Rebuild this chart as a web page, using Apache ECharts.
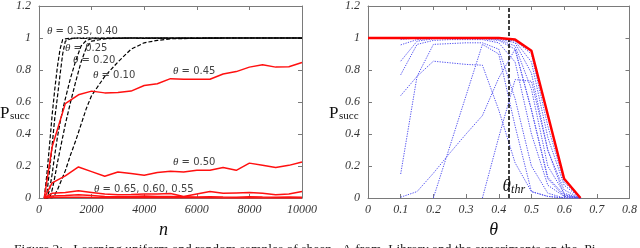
<!DOCTYPE html>
<html><head><meta charset="utf-8">
<script src="https://cdn.jsdelivr.net/npm/echarts@6/dist/echarts.min.js"></script>
<style>html,body{margin:0;padding:0;background:#fff;overflow:hidden}#c{width:640px;height:248px}</style>
</head><body><div id="c"></div>
<script>
// ---------- DATA ----------
// Left panel: P_succ vs n
const nRed = [200,500,1000,1500,2000,2500,3000,3500,4000,4500,5000,5500,6000,6500,7000,7500,8000,8500,9000,9500,10000];
const red045 = [0,0.32,0.59,0.645,0.668,0.657,0.66,0.668,0.703,0.714,0.746,0.742,0.742,0.742,0.775,0.79,0.818,0.833,0.818,0.82,0.847];
const red050 = [0,0.095,0.138,0.194,0.165,0.136,0.163,0.153,0.142,0.16,0.167,0.163,0.173,0.173,0.19,0.173,0.218,0.204,0.19,0.204,0.225];
const red055 = [0,0.03,0.035,0.045,0.035,0.025,0.02,0.022,0.025,0.025,0.028,0.01,0.025,0.04,0.03,0.032,0.034,0.03,0.02,0.025,0.04];
const red060 = [0,0.012,0.015,0.02,0.015,0.01,0.008,0.01,0.012,0.01,0.01,0.008,0.006,0.008,0.006,0.005,0.008,0.006,0.005,0.006,0.005];
const red065 = [0,0.003,0.005,0.004,0.003,0.002,0.001,0.002,0.002,0.001,0.001,0.001,0.001,0.001,0,0,0.001,0,0,0,0];

const nBlack = [200,300,400,500,600,700,800,900,1000,1200,1400,1600,1800,2000,2500,3000,3500,4000,4500,5000,6000,7000,8000,9000,10000];
const blk040 = [0,0.15,0.33,0.52,0.68,0.82,0.93,0.99,0.995,0.998,1,1,0.997,1,1,0.998,1,1,1,0.998,1,1,1,1,1];
const blk035 = [0,0.03,0.17,0.33,0.5,0.63,0.77,0.9,0.98,0.995,1,0.998,1,1,0.997,1,1,1,0.998,1,1,1,1,1,1];
const blk025 = [0,0,0.05,0.15,0.27,0.38,0.47,0.55,0.62,0.75,0.86,0.95,0.985,0.995,0.998,1,1,0.997,1,1,1,1,1,1,1];
const blk020 = [0,0,0,0.05,0.13,0.22,0.3,0.38,0.46,0.6,0.73,0.85,0.94,0.98,0.995,0.998,1,1,1,1,0.998,1,1,1,1];
const blk010 = [0,0,0,0,0.02,0.05,0.09,0.13,0.17,0.27,0.36,0.46,0.56,0.64,0.76,0.85,0.93,0.97,0.985,0.995,0.998,1,1,1,1];

// Right panel: P_succ vs theta
const thetaRed = [0,0.1,0.2,0.3,0.4,0.45,0.5,0.55,0.6,0.65];
const redRight = [1,1,1,1,1,0.99,0.92,0.52,0.12,0];
const thetaBlue = [0.1,0.15,0.2,0.25,0.3,0.35,0.4,0.45,0.5,0.55,0.6,0.65];
const blue1  = [null,null,null,null,null,0,0.38,0.74,0.73,0.3,0.02,0];
const blue2  = [0.005,0.04,0.155,0.28,0.4,0.515,0.75,0.93,0.55,0.12,0.01,0];
const blue3  = [null,null,0,0.32,0.64,0.96,0.9,0.45,0.04,0.01,0,0];
const blue4  = [0.15,0.76,0.855,0.845,0.835,0.83,0.55,0.22,0.04,0.01,0,0];
const blue5  = [0.64,0.76,0.96,0.965,0.97,0.97,0.93,0.62,0.2,0.03,0,0];
const blue6  = [0.77,0.96,0.985,0.99,0.99,0.99,0.97,0.85,0.4,0.08,0.01,0];
const blue7  = [0.855,0.98,0.995,1,1,0.995,0.985,0.93,0.55,0.13,0.02,0];
const blue8  = [0.957,0.99,1,1,1,1,0.99,0.95,0.68,0.2,0.03,0];
const blue9  = [0.99,1,1,1,1,1,0.995,0.97,0.78,0.3,0.05,0];
const blue10 = [1,1,1,1,1,1,1,0.98,0.85,0.38,0.08,0];
const blue11 = [1,1,1,1,1,1,1,0.985,0.9,0.45,0.1,0];
const thetaThr = 0.427;

// Tick labels
const xTicksLeft = [0,2000,4000,6000,8000,10000];
const xTicksRight = [0,0.1,0.2,0.3,0.4,0.5,0.6,0.7,0.8];
const yTicks = [0,0.2,0.4,0.6,0.8,1,1.2];

// Annotations (data coords of label left/middle)
const leftLabels = [
  {txt:' = 0.35, 0.40', n:300, p:1.04},
  {txt:' = 0.25', n:990, p:0.934},
  {txt:' = 0.20', n:1290, p:0.86},
  {txt:' = 0.10', n:2050, p:0.767},
  {txt:' = 0.45', n:5095, p:0.792},
  {txt:' = 0.50', n:5095, p:0.223},
  {txt:' = 0.65, 0.60, 0.55', n:2090, p:0.056}
];
const caption = 'Figure 2:   Learning uniform and random samples of sheep.  A from  Library and the experiments on the  Pi';

// ---------- CHART ----------
const frame = '#7a7a7a';
const serif = 'Liberation Serif';
const fmt = v => String(parseFloat((+v).toFixed(4)));
const zip = (xs, ys) => xs.map((x,i)=>[x, ys[i]]).filter(d=>d[1]!==null);

function axisX(grid, ticks, pos, name){
  const a = {
    gridIndex: grid, type:'value', position: pos,
    min: ticks[0], max: ticks[ticks.length-1], interval: ticks[1]-ticks[0],
    axisLine:{show:true, onZero:false, lineStyle:{color:frame, width:1}},
    axisTick:{show:true, inside:true, length:4, lineStyle:{color:frame}},
    splitLine:{show:false},
    axisLabel:{show: pos==='bottom', margin:6, formatter: fmt, color:'#333', fontFamily:serif, fontStyle:'italic', fontSize:12},
  };
  if (name) {
    a.name = name; a.nameLocation='middle'; a.nameGap=14;
    a.nameTextStyle = {fontFamily:serif, fontStyle:'italic', fontSize:18, color:'#111', padding: grid===0?[0,14,0,0]:[0,10,0,0]};
  }
  return a;
}
function axisY(grid, pos){
  return {
    gridIndex: grid, type:'value', position: pos,
    min: yTicks[0], max: yTicks[yTicks.length-1], interval: yTicks[1]-yTicks[0],
    axisLine:{show:true, onZero:false, lineStyle:{color:frame, width:1}},
    axisTick:{show:true, inside:true, length:4, lineStyle:{color:frame}},
    splitLine:{show:false},
    axisLabel:{show: pos==='left', margin:8, formatter: fmt, color:'#333', fontFamily:serif, fontStyle:'italic', fontSize:12},
  };
}

const series = [];
const redStyle = {color:'#ff1010', width:1.5};
const blkStyle = {color:'#000', width:1.2, type:[4,2]};
[blk010, blk020, blk025, blk035, blk040].forEach(v=>series.push({
  type:'line', xAxisIndex:0, yAxisIndex:0, data: zip(nBlack, v), symbol:'none', lineStyle: blkStyle, silent:true, animation:false
}));
[red065, red060, red055, red050, red045].forEach(v=>series.push({
  type:'line', xAxisIndex:0, yAxisIndex:0, data: zip(nRed, v), symbol:'none', lineStyle: redStyle, silent:true, animation:false
}));
[blue1,blue2,blue3,blue4,blue5,blue6,blue7,blue8,blue9,blue10,blue11].forEach(v=>series.push({
  type:'line', xAxisIndex:2, yAxisIndex:2, data: zip(thetaBlue, v), symbol:'none',
  lineStyle:{color:'#5555f0', width:1, type:[1.3,1.2]}, silent:true, animation:false
}));
series.push({
  type:'line', xAxisIndex:2, yAxisIndex:2, data: zip(thetaRed, redRight), symbol:'none',
  lineStyle:{color:'#ff0000', width:2.5}, silent:true, animation:false, z:5,
  markLine:{symbol:'none', silent:true, animation:false, label:{show:false},
    lineStyle:{color:'#000', type:[4,2], width:1.5}, data:[{xAxis: thetaThr}]}
});

const chart = echarts.init(document.getElementById('c'), null, {renderer:'canvas'});
chart.setOption({
  animation:false,
  backgroundColor:'#fff',
  grid:[{left:39, top:4, width:263, height:194}, {left:368, top:4, width:264, height:194}],
  xAxis:[axisX(0, xTicksLeft, 'bottom', 'n'), axisX(0, xTicksLeft, 'top'),
         axisX(1, xTicksRight, 'bottom', 'θ'), axisX(1, xTicksRight, 'top')],
  yAxis:[axisY(0,'left'), axisY(0,'right'), axisY(1,'left'), axisY(1,'right')],
  series
});

// ---------- TEXT GRAPHICS ----------
const g = [];
leftLabels.forEach(L=>{
  const p = chart.convertToPixel({xAxisIndex:0, yAxisIndex:0}, [L.n, L.p]);
  g.push({type:'text', x:p[0], y:p[1], silent:true, z:100, style:{
    text:'{t|θ}{r|'+L.txt+'}', verticalAlign:'middle', align:'left',
    rich:{t:{fontFamily:serif, fontStyle:'italic', fontSize:11, fill:'#333'},
          r:{fontFamily:'DejaVu Sans', fontSize:10, fill:'#444'}}}});
});
// theta_thr label
const pt = chart.convertToPixel({xAxisIndex:2, yAxisIndex:2}, [thetaThr, 0]);
g.push({type:'text', x:pt[0]-5, y:pt[1]-3, silent:true, z:100, style:{text:'θ', fontFamily:serif, fontStyle:'italic', fontSize:17, fill:'#111', verticalAlign:'bottom'}});
g.push({type:'text', x:pt[0]+3.5, y:pt[1]-2, silent:true, z:100, style:{text:'thr', fontFamily:serif, fontStyle:'italic', fontSize:12, fill:'#111', verticalAlign:'bottom'}});
// P_succ labels
[[0,0],[1,0]].forEach(([gi])=>{
  const p0 = chart.convertToPixel({xAxisIndex:gi*2, yAxisIndex:gi*2}, [gi===0?xTicksLeft[0]:xTicksRight[0], 0.6]);
  const x0 = p0[0]-39;
  g.push({type:'text', x:x0, y:p0[1]+20, silent:true, z:100, style:{text:'P', fontFamily:serif, fontSize:17, fill:'#111', verticalAlign:'bottom'}});
  g.push({type:'text', x:x0+10, y:p0[1]+20, silent:true, z:100, style:{text:'succ', fontFamily:serif, fontSize:11, fill:'#111', verticalAlign:'bottom'}});
});
g.push({type:'text', x:14, y:242, silent:true, style:{text:caption, fontFamily:serif, fontSize:13.5, fill:'#222', verticalAlign:'top'}});
chart.setOption({graphic:g});
</script></body></html>
